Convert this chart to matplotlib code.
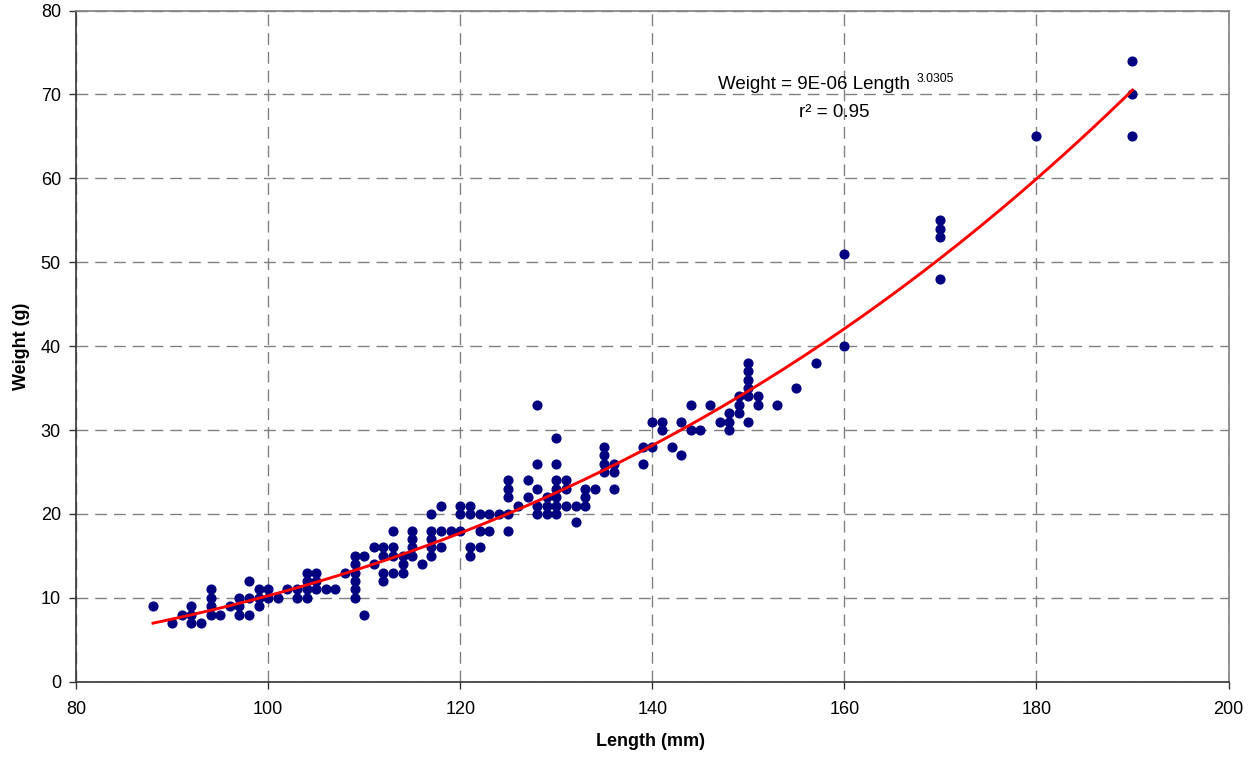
import numpy as np
import matplotlib
matplotlib.use("Agg")
import matplotlib.pyplot as plt

# Length-weight scatter with power trendline (Excel style chart)

plt.rcParams['font.family'] = ['Liberation Sans', 'DejaVu Sans']

# lengths (mm) and the weights (g) recorded at each length
lengths = [88, 90, 91, 92, 93, 94, 95, 96, 97, 98, 99, 100, 101, 102, 103, 104,
           105, 106, 107, 108, 109, 110, 111, 112, 113, 114, 115, 116, 117, 118,
           119, 120, 121, 122, 123, 124, 125, 126, 127, 128, 129, 130, 131, 132,
           133, 134, 135, 136, 139, 140, 141, 142, 143, 144, 145, 146, 147, 148,
           149, 150, 151, 153, 155, 157, 160, 170, 180, 190]
weights = [[9], [7], [8], [9, 8, 7], [7], [11, 10, 9, 8], [8], [9], [10, 9, 8],
           [12, 10, 8], [11, 10, 9], [11, 10], [10], [11], [11, 10],
           [13, 12, 11, 10], [13, 12, 11], [11], [11], [13],
           [15, 14, 13, 12, 11, 10], [15, 8], [16, 14], [16, 15, 13, 12],
           [18, 16, 15, 13], [15, 14, 13], [18, 17, 16, 15], [14],
           [20, 18, 17, 16, 15], [21, 18, 16], [18], [21, 20, 18],
           [21, 20, 16, 15], [20, 18, 16], [20, 18], [20], [24, 23, 22, 20, 18],
           [21], [24, 22], [33, 26, 23, 21, 20], [22, 21, 20],
           [29, 26, 24, 23, 22, 21, 20], [24, 23, 21], [21, 19], [23, 22, 21],
           [23], [28, 27, 26, 25], [26, 25, 23], [28, 26], [31, 28], [31, 30],
           [28], [31, 27], [33, 30], [30], [33], [31], [32, 31, 30], [34, 33, 32],
           [38, 37, 36, 35, 34, 31], [34, 33], [33], [35], [38], [51, 40],
           [55, 54, 53, 48], [65], [74, 70, 65]]

x_ticks = [80, 100, 120, 140, 160, 180, 200]
y_ticks = [0, 10, 20, 30, 40, 50, 60, 70, 80]

eq_text = "Weight = 9E-06 Length"
eq_power = "3.0305"
r2_text = "r\u00b2 = 0.95"

# flatten into point pairs
xs = []
ys = []
for L, ws in zip(lengths, weights):
    for w in ws:
        xs.append(L)
        ys.append(w)
xs = np.array(xs, dtype=float)
ys = np.array(ys, dtype=float)

# power trendline, fitted like Excel does (log-log least squares)
b, lna = np.polyfit(np.log(xs), np.log(ys), 1)
fit_x = np.linspace(xs.min(), xs.max(), 200)
fit_y = np.exp(lna) * fit_x ** b

W, H = 1257, 757
fig = plt.figure(figsize=(W / 100, H / 100), dpi=100)
ax = fig.add_axes([76.2 / W, 1 - 681.7 / H, (1228.5 - 76.2) / W, (681.7 - 10.5) / H])

ax.plot(xs, ys, 'o', color='#000080', ms=6.3, mec='#000080', zorder=3)
ax.plot(fit_x, fit_y, color='#ff0000', lw=2.1, zorder=4)

ax.set_xlim(80, 200)
ax.set_ylim(0, 80)
ax.set_xticks(x_ticks)
ax.set_yticks(y_ticks)

ax.grid(True, color='#808080', lw=1, linestyle=(0, (8.5, 5)))
ax.set_axisbelow(True)

for side in ['top', 'right']:
    ax.spines[side].set_color('#808080')
for side in ['left', 'bottom']:
    ax.spines[side].set_color('#333333')
for s in ax.spines.values():
    s.set_linewidth(1.2)

ax.tick_params(axis='both', direction='out', length=5, width=1, color='#333333',
               labelsize=13)
ax.tick_params(axis='x', pad=9)
ax.tick_params(axis='y', pad=6)

fig.text(651 / W, 1 - 741.7 / H, "Length (mm)", ha='center', va='center',
         fontsize=13, fontweight='bold')
fig.text(22 / W, 1 - 346 / H, "Weight (g)", ha='center', va='center',
         rotation=90, fontsize=13, fontweight='bold')

fig.text(718 / W, 1 - 89.3 / H, eq_text, ha='left', va='baseline', fontsize=13.5)
fig.text(917 / W, 1 - 81.7 / H, eq_power, ha='left', va='baseline', fontsize=8.7)
fig.text(834.5 / W, 1 - 116.7 / H, r2_text, ha='center', va='baseline', fontsize=13.5)

plt.savefig("out.png", dpi=100)
